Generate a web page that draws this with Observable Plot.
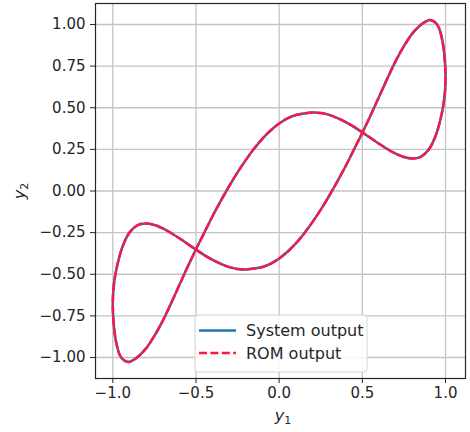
<!DOCTYPE html>
<html><head><meta charset="utf-8">
<script src="https://cdn.jsdelivr.net/npm/d3@7"></script>
<script src="https://cdn.jsdelivr.net/npm/@observablehq/plot@0.6"></script>
<style>body{margin:0;background:#fff;} #chart{width:470px;height:432px;}</style>
</head><body><div id="chart"></div>
<script>
// Trajectory points (closed loop, starting at the top)
const y1 = [0.905, 0.935, 0.958, 0.975, 0.988, 0.996, 1.0, 0.997, 0.986, 0.967, 0.94, 0.90, 0.85, 0.80, 0.75, 0.70, 0.65, 0.60, 0.55, 0.50, 0.45, 0.40, 0.35, 0.30, 0.25, 0.20, 0.15, 0.10, 0.05, 0.0, -0.05, -0.10, -0.15, -0.20, -0.25, -0.30, -0.35, -0.40, -0.45, -0.50, -0.55, -0.60, -0.65, -0.70, -0.75, -0.80, -0.84, -0.87,
  -0.905, -0.935, -0.958, -0.975, -0.988, -0.996, -1.0, -0.997, -0.986, -0.967, -0.94, -0.90, -0.85, -0.80, -0.75, -0.70, -0.65, -0.60, -0.55, -0.50, -0.45, -0.40, -0.35, -0.30, -0.25, -0.20, -0.15, -0.10, -0.05, 0.0, 0.05, 0.10, 0.15, 0.20, 0.25, 0.30, 0.35, 0.40, 0.45, 0.50, 0.55, 0.60, 0.65, 0.70, 0.75, 0.80, 0.84, 0.87];
const y2 = [1.027, 1.015, 0.985, 0.93, 0.86, 0.78, 0.69, 0.60, 0.51, 0.42, 0.33, 0.25, 0.205, 0.195, 0.204, 0.224, 0.252, 0.284, 0.318, 0.352, 0.385, 0.414, 0.438, 0.457, 0.468, 0.471, 0.466, 0.456, 0.436, 0.405, 0.365, 0.315, 0.255, 0.187, 0.112, 0.03, -0.058, -0.15, -0.25, -0.35, -0.455, -0.565, -0.675, -0.78, -0.87, -0.945, -0.988, -1.011,
  -1.027, -1.015, -0.985, -0.93, -0.86, -0.78, -0.69, -0.60, -0.51, -0.42, -0.33, -0.25, -0.205, -0.195, -0.204, -0.224, -0.252, -0.284, -0.318, -0.352, -0.385, -0.414, -0.438, -0.457, -0.468, -0.471, -0.466, -0.456, -0.436, -0.405, -0.365, -0.315, -0.255, -0.187, -0.112, -0.03, 0.058, 0.15, 0.25, 0.35, 0.455, 0.565, 0.675, 0.78, 0.87, 0.945, 0.988, 1.011];
const xTicks = [-1.0, -0.5, 0.0, 0.5, 1.0];
const yTicks = [-1.0, -0.75, -0.5, -0.25, 0.0, 0.25, 0.5, 0.75, 1.0];
const seriesNames = ["System output", "ROM output"];
const seriesColors = ["#1f77b4", "#ff1744"];

const pts = y1.map((v, i) => ({y1: v, y2: y2[i]}));

const plot = Plot.plot({
  width: 470, height: 432,
  marginLeft: 95, marginRight: 5, marginTop: 3, marginBottom: 54,
  x: {domain: [-1.104, 1.12], label: null},
  y: {domain: [-1.126, 1.126], label: null},
  style: {fontFamily: "DejaVu Sans", fontSize: "15px", color: "#262626", background: "#fff", overflow: "visible"},
  marks: [
    Plot.gridX(xTicks, {stroke: "#c4c4c4", strokeOpacity: 1, strokeWidth: 1.3}),
    Plot.gridY(yTicks, {stroke: "#c4c4c4", strokeOpacity: 1, strokeWidth: 1.3}),
    Plot.line(pts, {x: "y1", y: "y2", stroke: seriesColors[0], strokeWidth: 2.5, curve: "catmull-rom-closed"}),
    Plot.line(pts, {x: "y1", y: "y2", stroke: seriesColors[1], strokeWidth: 2.5, strokeDasharray: "8,3.4", curve: "catmull-rom-closed"}),
    Plot.frame({stroke: "#262626", strokeWidth: 1.2}),
    Plot.axisX({ticks: xTicks, tickFormat: d3.format(".1f"), tickSize: 5, tickPadding: 4, label: null, fontSize: 15, stroke: "#262626"}),
    Plot.axisY({ticks: yTicks, tickFormat: d3.format(".2f"), tickSize: 5, tickPadding: 5, label: null, fontSize: 15, stroke: "#262626"})
  ]
});

const svg = d3.select(plot);
// axis labels (math italic y with upright subscript)
const xl = svg.append("text").attr("x", 283).attr("y", 421).attr("text-anchor", "middle")
  .attr("font-family", "DejaVu Sans").attr("font-size", 16).attr("fill", "#262626");
xl.append("tspan").attr("font-style", "italic").text("y");
xl.append("tspan").attr("font-size", 11).attr("dy", 3).text("1");
const yl = svg.append("text").attr("transform", "translate(25,191) rotate(-90)").attr("text-anchor", "middle")
  .attr("font-family", "DejaVu Sans").attr("font-size", 16).attr("fill", "#262626");
yl.append("tspan").attr("font-style", "italic").text("y");
yl.append("tspan").attr("font-size", 11).attr("dy", 3).text("2");

// legend
const lg = svg.append("g").attr("text-anchor", "start");
lg.append("rect").attr("x", 195).attr("y", 315).attr("width", 172).attr("height", 57).attr("rx", 3)
  .attr("fill", "#fff").attr("fill-opacity", 0.85).attr("stroke", "#d6d6d6").attr("stroke-width", 1);
seriesNames.forEach((name, i) => {
  const yy = 330.5 + i * 22.5;
  lg.append("line").attr("x1", 199).attr("x2", 236).attr("y1", yy).attr("y2", yy)
    .attr("stroke", seriesColors[i]).attr("stroke-width", 2.5)
    .attr("stroke-dasharray", i === 1 ? "8,3.4" : null);
  lg.append("text").attr("x", 246).attr("y", yy).attr("dy", "0.36em").attr("text-anchor", "start")
    .attr("font-family", "DejaVu Sans").attr("font-size", 16).attr("fill", "#262626").text(name);
});

document.getElementById("chart").appendChild(plot);
</script>
</body></html>
